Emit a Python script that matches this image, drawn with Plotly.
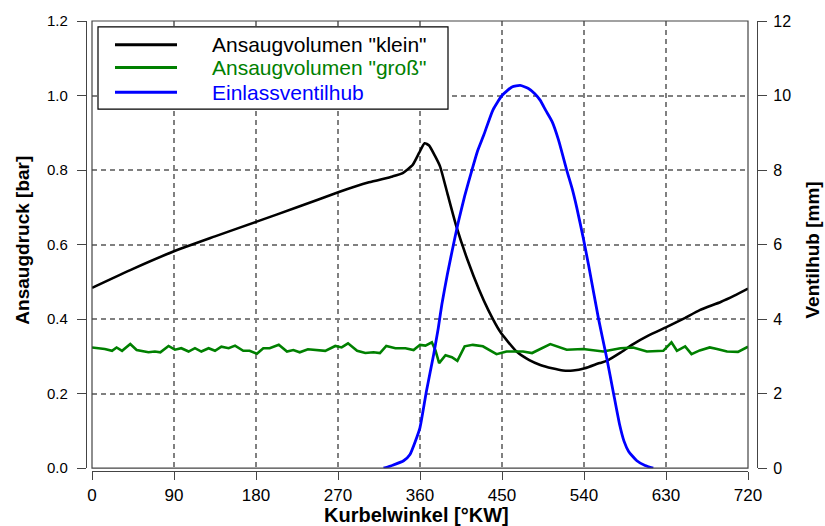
import plotly.graph_objects as go

# Ansaugdruck, kleines Ansaugvolumen (°KW, bar)
kw_klein = [0, 45, 90, 135, 180, 225, 271, 304, 330, 341, 352, 359, 365, 370, 376, 382,
            390, 400, 412, 425, 435, 448, 466, 480, 492, 505, 517, 528, 541, 557, 565,
            580, 594, 610, 631, 650, 667, 690, 705, 720]
p_klein = [0.484, 0.535, 0.582, 0.622, 0.661, 0.700, 0.741, 0.767, 0.783, 0.792, 0.814,
           0.846, 0.872, 0.866, 0.840, 0.810, 0.738, 0.648, 0.560, 0.478, 0.424, 0.366,
           0.313, 0.290, 0.277, 0.268, 0.262, 0.262, 0.268, 0.282, 0.288, 0.310, 0.333,
           0.355, 0.379, 0.402, 0.424, 0.446, 0.463, 0.482]

# Ansaugdruck, großes Ansaugvolumen (°KW, bar)
kw_gross = [0, 14, 22, 27, 33, 42, 49, 62, 69, 75, 84, 91, 98, 106, 113, 120, 128, 135,
            142, 150, 157, 166, 173, 181, 188, 195, 205, 214, 221, 228, 237, 247, 256,
            267, 274, 281, 291, 300, 309, 316, 323, 333, 344, 353, 360, 366, 373, 377,
            381, 388, 395, 401, 409, 418, 429, 444, 455, 473, 483, 503, 521, 539, 561,
            580, 594, 609, 627, 636, 642, 651, 658, 667, 678, 686, 697, 709, 720]
p_gross = [0.324, 0.320, 0.315, 0.324, 0.315, 0.333, 0.317, 0.311, 0.313, 0.311, 0.328,
           0.318, 0.322, 0.313, 0.322, 0.313, 0.322, 0.315, 0.326, 0.322, 0.329, 0.315,
           0.315, 0.307, 0.322, 0.322, 0.331, 0.313, 0.317, 0.311, 0.319, 0.317, 0.315,
           0.328, 0.324, 0.335, 0.315, 0.309, 0.311, 0.309, 0.328, 0.322, 0.322, 0.317,
           0.331, 0.329, 0.338, 0.316, 0.282, 0.303, 0.298, 0.288, 0.327, 0.331, 0.327,
           0.306, 0.313, 0.313, 0.309, 0.333, 0.318, 0.320, 0.313, 0.322, 0.324, 0.313,
           0.315, 0.338, 0.315, 0.327, 0.306, 0.316, 0.324, 0.320, 0.313, 0.312, 0.326]

# Einlassventilhub (°KW, mm)
kw_hub = [320, 330, 342, 349, 355, 360, 367, 375, 380, 384, 390, 398, 402, 409, 417, 423,
          430, 440, 450, 461, 470, 479, 486, 492, 498, 505, 512, 521, 527, 532, 539, 545,
          556, 565, 572, 579, 584, 589, 598, 607, 616]
hub_mm = [0.0, 0.08, 0.2, 0.37, 0.73, 1.09, 2.06, 3.05, 3.75, 4.4, 5.2, 6.15, 6.6, 7.3,
          8.0, 8.5, 8.94, 9.61, 10.0, 10.23, 10.27, 10.19, 10.05, 9.87, 9.6, 9.3, 8.81,
          8.0, 7.5, 7.0, 6.2, 5.45, 4.0, 2.95, 2.06, 1.18, 0.72, 0.45, 0.2, 0.07, 0.0]

series_names = ['Ansaugvolumen "klein"', 'Ansaugvolumen "groß"', 'Einlassventilhub']
series_colors = ['#000000', '#008000', '#0000ff']

x_ticks = [0, 90, 180, 270, 360, 450, 540, 630, 720]
p_ticks = [0.0, 0.2, 0.4, 0.6, 0.8, 1.0, 1.2]
hub_ticks = [0, 2, 4, 6, 8, 10, 12]

W, H = 825, 526
ML, MR, MT, MB = 60, 40, 16, 40
PW, PH = W - ML - MR, H - MT - MB


def px_x(p):
    return (p - ML) / PW


def px_y(p):
    return (H - MB - p) / PH


FONT = "Liberation Sans, Arial, sans-serif"

fig = go.Figure()
fig.add_trace(go.Scatter(x=kw_klein, y=p_klein, mode="lines", name=series_names[0],
                         line=dict(color=series_colors[0], width=2.6, shape="spline", smoothing=0.5)))
fig.add_trace(go.Scatter(x=kw_gross, y=p_gross, mode="lines", name=series_names[1],
                         line=dict(color=series_colors[1], width=2.6)))
fig.add_trace(go.Scatter(x=kw_hub, y=hub_mm, mode="lines", yaxis="y2", name=series_names[2],
                         line=dict(color=series_colors[2], width=2.8, shape="spline", smoothing=0.5)))

grid = dict(showgrid=True, gridcolor="#808080", gridwidth=1.5, griddash="5px,4px")

fig.update_layout(
    width=W, height=H,
    margin=dict(l=ML, r=MR, t=MT, b=MB, pad=0),
    paper_bgcolor="white", plot_bgcolor="white",
    font=dict(family=FONT, color="#000000"),
    showlegend=False,
    xaxis=dict(domain=[px_x(92), px_x(748)], range=[0, 720], tickvals=x_ticks,
               anchor="free", position=px_y(471),
               showline=True, linecolor="#444444", linewidth=1.2,
               ticks="outside", ticklen=8, tickcolor="#444444", tickwidth=1.2,
               tickfont=dict(size=17), ticklabelstandoff=0,
               zeroline=False, **grid),
    yaxis=dict(domain=[px_y(468), px_y(16)], range=[0, 1.2], tickvals=p_ticks,
               tickformat=".1f", anchor="free", position=px_x(86),
               showline=True, linecolor="#444444", linewidth=1.2,
               ticks="outside", ticklen=9, tickcolor="#444444", tickwidth=1.2,
               tickfont=dict(size=15), ticklabelstandoff=6,
               zeroline=False, **grid),
    yaxis2=dict(overlaying="y", side="right", range=[0, 12], tickvals=hub_ticks,
                anchor="free", position=px_x(757),
                showline=True, linecolor="#444444", linewidth=1.2,
                ticks="outside", ticklen=9, tickcolor="#444444", tickwidth=1.2,
                tickfont=dict(size=16), ticklabelstandoff=3,
                showgrid=False, zeroline=False),
)

# plot frame
fig.add_shape(type="rect", xref="x domain", yref="y domain", x0=0, x1=1, y0=0, y1=1,
              line=dict(color="#444444", width=1.2), layer="above")

# legend: framed box with a line sample and coloured label per series
fig.add_shape(type="rect", xref="paper", yref="paper",
              x0=px_x(98), x1=px_x(448), y0=px_y(105), y1=px_y(22),
              fillcolor="white", line=dict(color="#000000", width=1.2), layer="above")
legend_rows = [40, 63, 88]
for name, color, row in zip(series_names, series_colors, legend_rows):
    fig.add_shape(type="line", xref="paper", yref="paper",
                  x0=px_x(115), x1=px_x(177), y0=px_y(row), y1=px_y(row),
                  line=dict(color=color, width=2.8), layer="above")
    fig.add_annotation(text=name, xref="paper", yref="paper",
                       x=px_x(210), y=px_y(row), xanchor="left", yanchor="middle",
                       showarrow=False, font=dict(size=21, family=FONT, color=color))

# axis titles
fig.add_annotation(text="<b>Ansaugdruck [bar]</b>", xref="paper", yref="paper",
                   x=px_x(23), y=px_y(238), xanchor="center", yanchor="middle",
                   textangle=-90, showarrow=False, font=dict(size=19, family=FONT))
fig.add_annotation(text="<b>Kurbelwinkel [°KW]</b>", xref="paper", yref="paper",
                   x=px_x(416), y=px_y(515), xanchor="center", yanchor="middle",
                   showarrow=False, font=dict(size=20, family=FONT))
fig.add_annotation(text="<b>Ventilhub [mm]</b>", xref="paper", yref="paper",
                   x=px_x(813), y=px_y(248), xanchor="center", yanchor="middle",
                   textangle=-90, showarrow=False, font=dict(size=19, family=FONT))

fig.write_html("out.html")
